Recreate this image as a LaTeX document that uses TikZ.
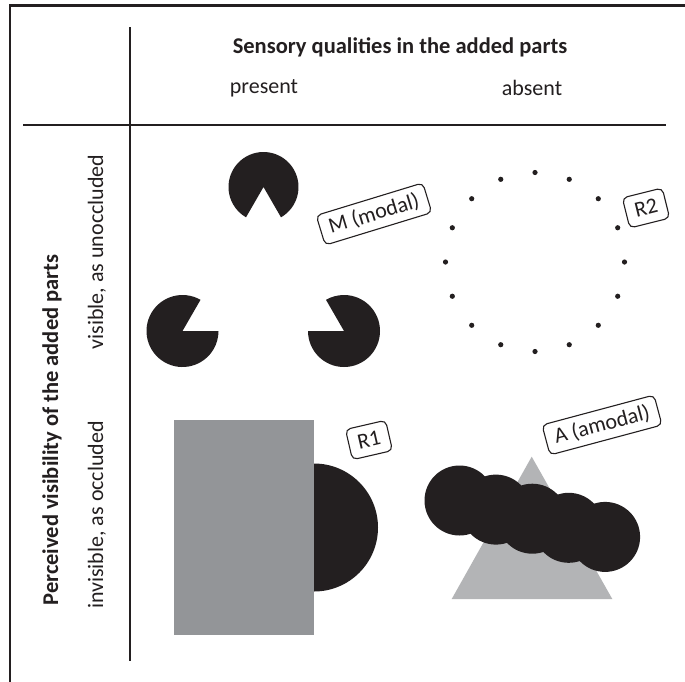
\documentclass[tikz,border=0pt]{standalone}
\usepackage{fontspec}
\setmainfont{Carlito}
\definecolor{ink}{HTML}{231F20}
\definecolor{rectgray}{HTML}{939598}
\definecolor{trigray}{HTML}{B3B4B6}
\begin{document}
\begin{tikzpicture}[x=1pt,y=-1pt,
  lbl/.style={font=\fontsize{22}{26}\selectfont, text=ink, inner sep=0pt},
  hdr/.style={font=\fontsize{22.5}{26}\selectfont\bfseries, text=ink, inner sep=0pt},
  tag/.style={draw=ink, line width=1.1pt, rounded corners=5pt, fill=white,
    font=\fontsize{22}{26}\selectfont, text=ink, inner xsep=9pt, inner ysep=0pt,
    minimum height=31pt},
  frame/.style={draw=ink, line width=2.5pt},
  divider/.style={draw=ink, line width=1.3pt},
  bead/.style={fill=ink}
]
\useasboundingbox (0,0) rectangle (685,681);
\fill[white] (0,0) rectangle (685,681);
% frame
\draw[frame] (10,682) -- (10,5.5) -- (686,5.5);
% dividers
\draw[divider] (130,27) -- (130,661);
\draw[divider] (23,125) -- (666,125);
% headings
\node[hdr] (hdr) at (400,47) {Sensory qualities in the added parts};
\node[lbl] (present) at (264,88) {present};
\node[lbl] (absent) at (532,88) {absent};
\node[hdr, rotate=90] (vis) at (52,430) {Perceived visibility of the added parts};
\node[lbl, rotate=90] (visible) at (97,252) {visible, as unoccluded};
\node[lbl, rotate=90] (invisible) at (97,515) {invisible, as occluded};
% Kanizsa triangle
\fill[ink] (263.5,187) -- ++(60:35) arc[start angle=60, end angle=-240, radius=35] -- cycle;
\fill[ink] (182.5,331) -- ++(-60:36) arc[start angle=-60, end angle=-360, radius=36] -- cycle;
\fill[ink] (344,331) -- ++(-180:36) arc[start angle=-180, end angle=-480, radius=36] -- cycle;
% dotted circle
\foreach \i in {0,...,15} \fill[ink] (535,262) ++(\i*22.5:89.5) circle[radius=2.6];
% occluded disk
\fill[ink] (314,527.5) circle[radius=64];
\fill[rectgray] (174,420) rectangle (314,635);
% amodal triangle
\fill[trigray] (531.7,456.7) -- (451.7,599) -- (612.3,599) -- cycle;
\foreach \i in {0,...,4} \fill[bead] ({459.5+\i*36.4},{500.5+\i*9.1}) circle[radius=35];
% tags
\node[tag, rotate=17] (M) at (374,214) {M (modal)};
\node[tag, rotate=14] (R2) at (646,208) {R2};
\node[tag, rotate=13] (R1) at (369,440) {R1};
\node[tag, rotate=15] (A) at (602,425) {A (amodal)};
\end{tikzpicture}
\end{document}
